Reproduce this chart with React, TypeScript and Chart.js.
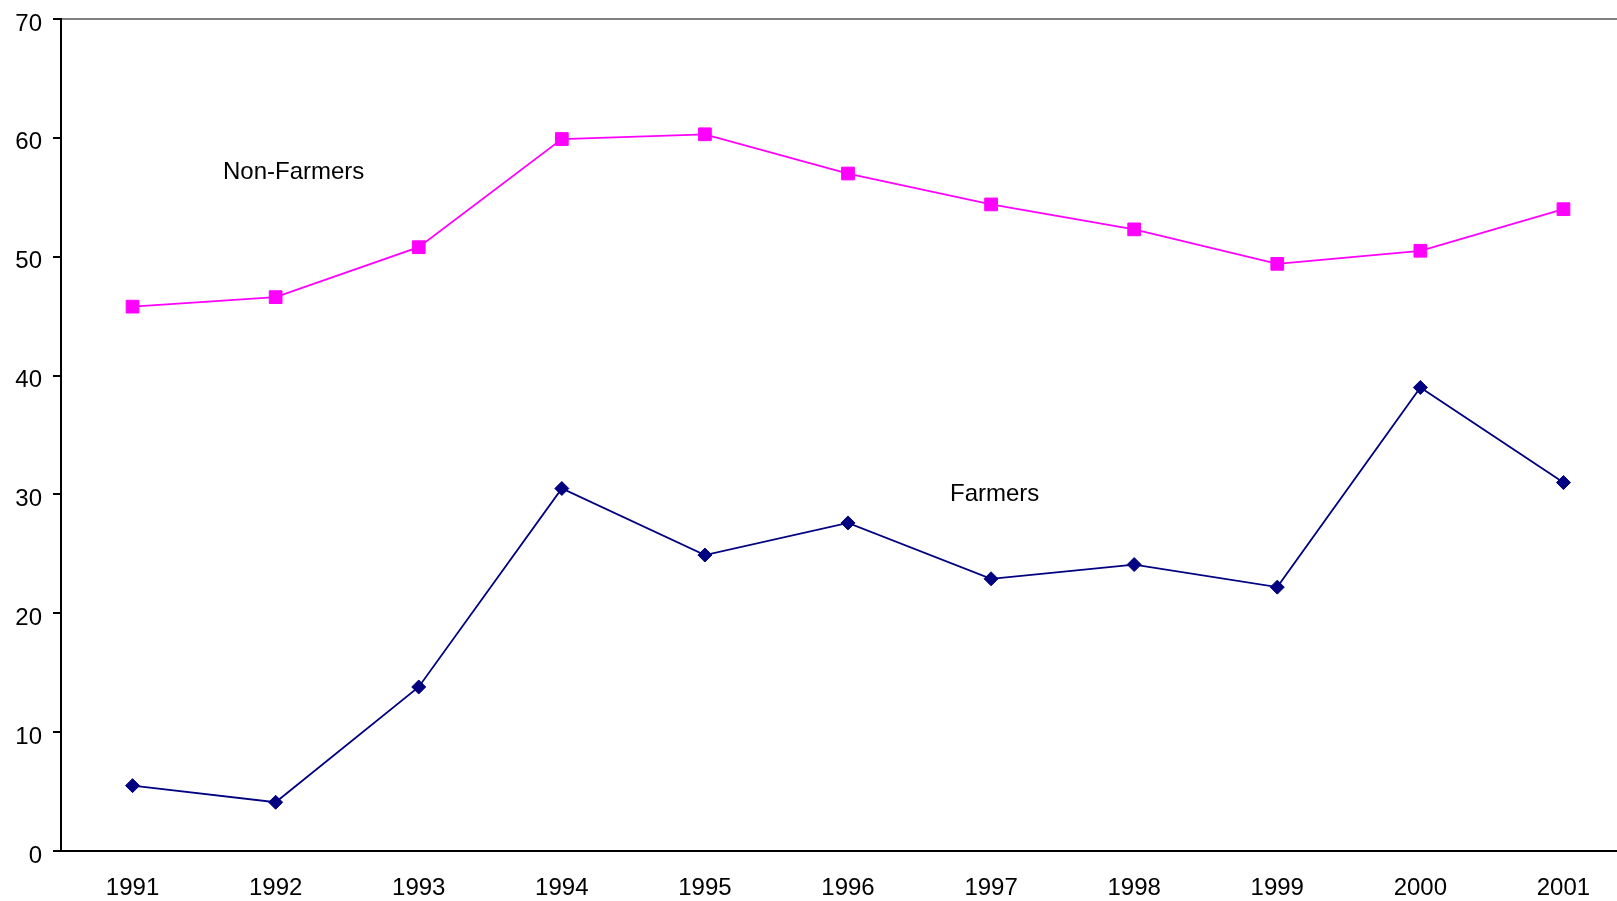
import React, { useEffect, useRef } from "react";
import { Chart, registerables } from "chart.js";

Chart.register(...registerables);

const years = ["1991", "1992", "1993", "1994", "1995", "1996", "1997", "1998", "1999", "2000", "2001"];
const nonFarmers = [45.8, 46.6, 50.8, 59.9, 60.3, 57.0, 54.4, 52.3, 49.4, 50.5, 54.0];
const farmers = [5.5, 4.1, 13.8, 30.5, 24.9, 27.6, 22.9, 24.1, 22.2, 39.0, 31.0];
const yTicks = [0, 10, 20, 30, 40, 50, 60, 70];

const FONT = "'Liberation Sans', Arial, sans-serif";

const labelsPlugin = {
  id: "seriesLabels",
  afterDraw(chart: any) {
    const ctx = chart.ctx;
    ctx.save();
    ctx.fillStyle = "#000";
    ctx.font = `24px ${FONT}`;
    ctx.textAlign = "left";
    ctx.textBaseline = "alphabetic";
    ctx.fillText("Non-Farmers", 223, 179);
    ctx.fillText("Farmers", 950, 501);
    ctx.restore();
  },
};

export default function App() {
  const ref = useRef<HTMLCanvasElement | null>(null);

  useEffect(() => {
    if (!ref.current) return;
    const chart = new Chart(ref.current, {
      type: "line",
      data: {
        labels: years,
        datasets: [
          {
            label: "Non-Farmers",
            data: nonFarmers,
            borderColor: "#FF00FF",
            backgroundColor: "#FF00FF",
            borderWidth: 1.8,
            pointStyle: "rect",
            pointRadius: 9,
            pointBorderWidth: 1,
            pointBackgroundColor: "#FF00FF",
            pointBorderColor: "#FF00FF",
            tension: 0,
          },
          {
            label: "Farmers",
            data: farmers,
            borderColor: "#000080",
            backgroundColor: "#000080",
            borderWidth: 1.8,
            pointStyle: "rectRot",
            pointRadius: 7,
            pointBorderWidth: 1,
            pointBackgroundColor: "#000080",
            pointBorderColor: "#000080",
            tension: 0,
          },
        ],
      },
      options: {
        responsive: false,
        animation: false,
        devicePixelRatio: 1,
        layout: { padding: { top: 19, right: 5, left: 0, bottom: 0 } },
        plugins: { legend: { display: false }, tooltip: { enabled: false } },
        scales: {
          x: {
            type: "category",
            offset: true,
            grid: { display: true, drawOnChartArea: false, drawTicks: false },
            border: { display: true, color: "#000", width: 2 },
            ticks: {
              color: "#000",
              font: { family: FONT, size: 24 },
              padding: 23,
              maxRotation: 0,
              autoSkip: false,
            },
            afterFit: (s: any) => {
              s.height = 50;
              s.paddingLeft = 0;
              s.paddingRight = 0;
            },
          },
          y: {
            min: 0,
            max: 70,
            afterBuildTicks: (s: any) => {
              s.ticks = yTicks.map((v) => ({ value: v }));
            },
            grid: {
              color: (c: any) => (c.tick && c.tick.value === 70 ? "#808080" : "rgba(0,0,0,0)"),
              tickColor: "#000",
              tickLength: 8,
              lineWidth: 2,
            },
            border: { display: true, color: "#000", width: 2 },
            ticks: {
              color: "#000",
              font: { family: FONT, size: 24 },
              padding: 11,
              labelOffset: 5,
            },
            afterFit: (s: any) => {
              s.width = 61;
              s.paddingTop = 0;
              s.paddingBottom = 0;
            },
          },
        },
      },
      plugins: [labelsPlugin],
    });
    return () => chart.destroy();
  }, []);

  return (
    <div
      style={{
        position: "fixed",
        left: 0,
        top: 0,
        width: 1617,
        height: 901,
        overflow: "hidden",
        background: "#fff",
      }}
    >
      <canvas ref={ref} width={1645} height={901} style={{ display: "block", width: 1645, height: 901 }} />
    </div>
  );
}
